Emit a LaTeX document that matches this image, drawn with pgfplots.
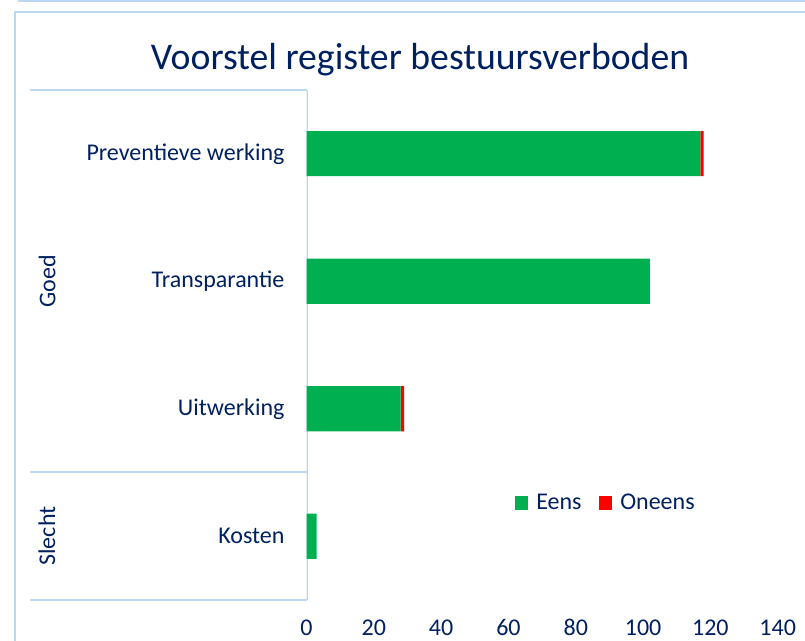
\documentclass[border=0pt]{standalone}
\usepackage{pgfplots}
\pgfplotsset{compat=1.18}
\usepackage{fontspec}
\setmainfont{Carlito}[Numbers=Lining]
\definecolor{navy}{HTML}{002060}
\definecolor{framec}{HTML}{BDD7EE}
\definecolor{eens}{HTML}{00B050}
\definecolor{oneens}{HTML}{FF0000}
\begin{document}
\begin{tikzpicture}
\begin{scope}[x=0.75pt,y=0.75pt]
\draw[framec, line width=1.5pt] (18,640) -- (805,640);
\draw[framec, line width=1.5pt] (15,0) -- (15,629) -- (805,629);
\draw[framec, line width=1.5pt] (30,551) -- (306.5,551);
\draw[framec, line width=1.5pt] (30,169) -- (306.5,169);
\draw[framec, line width=1.5pt] (30,41) -- (306.5,41);
\node[navy, font=\fontsize{28.3}{32}\selectfont] at (420,581) {Voorstel register bestuursverboden};
\node[navy, rotate=90, font=\fontsize{18}{20}\selectfont] at (47,360) {Goed};
\node[navy, rotate=90, font=\fontsize{18}{20}\selectfont] at (47,105) {Slecht};
\end{scope}
\begin{axis}[
  at={(229.875pt,30.75pt)}, anchor=south west,
  scale only axis, width=353.4pt, height=382.5pt,
  xbar stacked, bar width=0.353,
  ymin=-0.5, ymax=3.5, xmin=0, xmax=140,
  ytick={0,1,2,3},
  yticklabels={Kosten,Uitwerking,Transparantie,Preventieve werking},
  xtick={0,20,...,140},
  axis line style={draw=none},
  tick style={draw=none},
  ticklabel style={navy, font=\fontsize{18}{20}\selectfont},
  xticklabel style={yshift=-11pt, text height=12pt, text depth=0pt},
  yticklabel style={xshift=-13pt},
  /pgf/number format/assume math mode=true,
  legend style={at={(0.636,0.19)}, anchor=center, draw=none, fill=none,
    font=\fontsize{18}{20}\selectfont, text=navy,
    /tikz/every even column/.append style={column sep=11pt}},
  legend columns=2,
  legend image code/.code={\fill[#1] (0pt,-5pt) rectangle (10pt,5pt); \path (14pt,0pt);},
]
\addplot[fill=eens, draw=none] coordinates {(3,0) (28,1) (102,2) (117,3)};
\addplot[fill=oneens, draw=none] coordinates {(0,0) (1,1) (0,2) (1,3)};
\legend{Eens,Oneens}
\draw[framec, line width=1.5pt] (rel axis cs:0,0) -- (rel axis cs:0,1);
\end{axis}
\pgfresetboundingbox
\path[use as bounding box] (0pt,0pt) rectangle (603.75pt,480.75pt);
\end{tikzpicture}
\end{document}
